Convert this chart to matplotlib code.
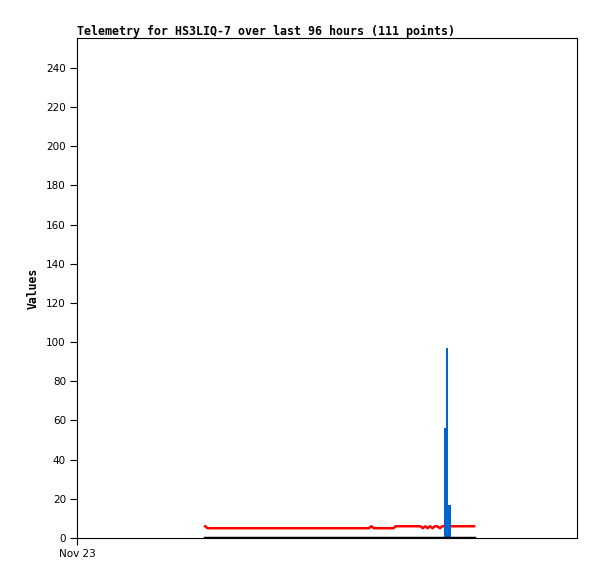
import numpy as np
import matplotlib
matplotlib.use("Agg")
import matplotlib.pyplot as plt

# 111 samples, hours since Nov 23 00:00
n_points = 111
t_start = 24.6
t_step = 0.4695
hours = t_start + np.arange(n_points) * t_step

# red series
red = [6] + [5] * 67 + [6] + [5] * 9 + [6] * 11 + [5, 6, 5, 6, 5, 6, 6, 5, 6, 6] + [6] * 12
# blue series (spike near the end)
blue = [0] * 98 + [56, 97, 17] + [0] * 10
# black series (flat at zero)
black = [0] * n_points

y_ticks = list(range(0, 241, 20))
x_tick_labels = ["Nov 23"]

fig = plt.figure(figsize=(5.97, 5.79), dpi=100)
ax = fig.add_axes([77 / 597, 41 / 579, 500 / 597, 500 / 579])

ax.plot(hours, red, color="#ff0000", linewidth=1.8, zorder=2)
ax.fill_between(hours, 0, blue, step="mid", color="#0066cc", linewidth=0, zorder=3)
ax.plot(hours, black, color="#000000", linewidth=2.5, zorder=4)

ax.set_xlim(0, 96)
ax.set_ylim(0, 255.3)
ax.set_yticks(y_ticks)
ax.set_xticks([0])
ax.set_xticklabels(x_tick_labels)

for s in ax.spines.values():
    s.set_linewidth(0.8)
ax.tick_params(axis="both", direction="out", length=5, width=0.8, labelsize=7.5, pad=3)

ax.set_title("Telemetry for HS3LIQ-7 over last 96 hours (111 points)",
             loc="left", fontsize=8.35, fontweight="bold", family="DejaVu Sans Mono", pad=2)
ax.set_ylabel("Values", fontsize=8.3, fontweight="bold", family="DejaVu Sans Mono", labelpad=5)

fig.savefig("out.png", dpi=100)
